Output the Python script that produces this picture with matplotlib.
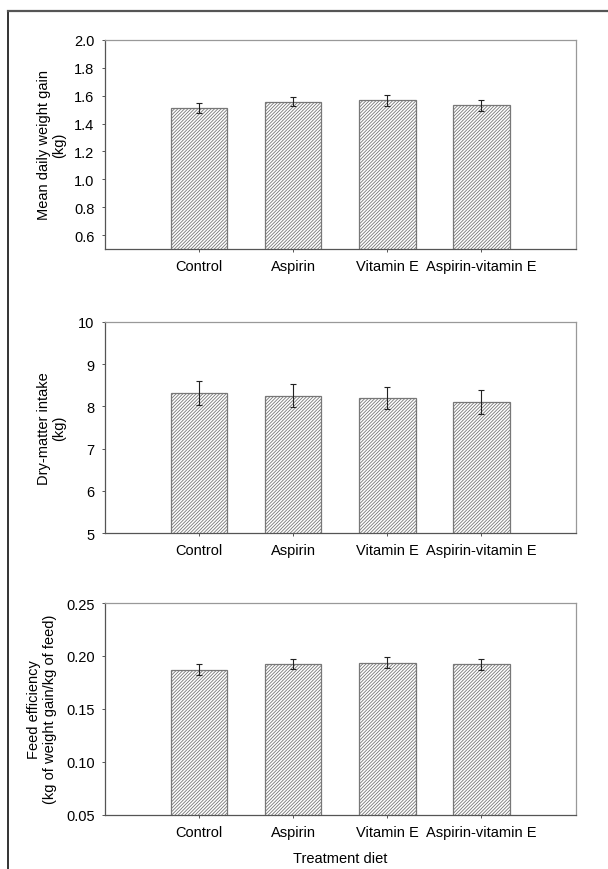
import numpy as np
import matplotlib
matplotlib.use("Agg")
import matplotlib.pyplot as plt
from matplotlib.lines import Line2D

plt.rcParams['font.family'] = ['Liberation Sans', 'DejaVu Sans']
plt.rcParams['hatch.linewidth'] = 0.6
plt.rcParams['hatch.color'] = '#444444'

diets = ['Control', 'Aspirin', 'Vitamin E', 'Aspirin-vitamin E']

gain_mean = [1.515, 1.558, 1.566, 1.530]
gain_err = [0.036, 0.035, 0.037, 0.036]

dmi_mean = [8.32, 8.25, 8.20, 8.10]
dmi_err = [0.28, 0.27, 0.27, 0.28]

fe_mean = [0.187, 0.192, 0.1935, 0.192]
fe_err = [0.005, 0.0048, 0.005, 0.005]

panels = [
    (gain_mean, gain_err, 'Mean daily weight gain\n(kg)', (0.5, 2.0),
     [0.6, 0.8, 1.0, 1.2, 1.4, 1.6, 1.8, 2.0], '%.1f'),
    (dmi_mean, dmi_err, 'Dry-matter intake\n(kg)', (5, 10),
     [5, 6, 7, 8, 9, 10], '%d'),
    (fe_mean, fe_err, 'Feed efficiency\n(kg of weight gain/kg of feed)', (0.05, 0.25),
     [0.05, 0.10, 0.15, 0.20, 0.25], '%.2f'),
]

W, H = 608, 870
fig = plt.figure(figsize=(W / 100, H / 100), dpi=100)

# axes boxes in pixels: (top, bottom)
boxes = [(41, 250), (323, 534), (604, 815.5)]
left, right = 105, 575.5
label_x = [52, 52, 42]

x = np.arange(1, len(diets) + 1)
for (mean, err, ylab, ylim, yticks, fmt), (top, bot), lx in zip(panels, boxes, label_x):
    ax = fig.add_axes([left / W, 1 - bot / H, (right - left) / W, (bot - top) / H])
    ax.bar(x, mean, width=0.6, color='white', edgecolor='#777777', linewidth=0.9,
           hatch='//////////', zorder=2)
    ax.errorbar(x, mean, yerr=err, fmt='none', ecolor='#222222', elinewidth=0.8,
                capsize=2, capthick=0.8, zorder=3)
    ax.set_xlim(0, 5)
    ax.set_ylim(*ylim)
    ax.set_yticks(yticks)
    ax.set_yticklabels([fmt % v for v in yticks])
    ax.set_xticks(x)
    ax.set_xticklabels(diets)
    ax.tick_params(axis='both', labelsize=10.5, direction='out', length=2.5,
                   width=0.7, color='#555555')
    ax.tick_params(axis='x', pad=5)
    ax.tick_params(axis='y', pad=5)
    for s in ['left', 'bottom']:
        ax.spines[s].set_color('#555555')
        ax.spines[s].set_linewidth(0.9)
    for s in ['top', 'right']:
        ax.spines[s].set_color('#999999')
        ax.spines[s].set_linewidth(0.9)
    fig.text(lx / W, 1 - (top + bot) / 2 / H, ylab, rotation=90, ha='center',
             va='center', fontsize=10.5, linespacing=1.1)

fig.text((left + right) / 2 / W, 1 - 859 / H, 'Treatment diet', ha='center',
         va='center', fontsize=10.5)

# page frame
fig.add_artist(Line2D([7.5 / W, 7.5 / W], [0, 1 - 12 / H], color='#111111', lw=1.2))
fig.add_artist(Line2D([7.5 / W, 1], [1 - 12 / H, 1 - 12 / H], color='#555555', lw=1.6))

fig.savefig('out.png', dpi=100)
